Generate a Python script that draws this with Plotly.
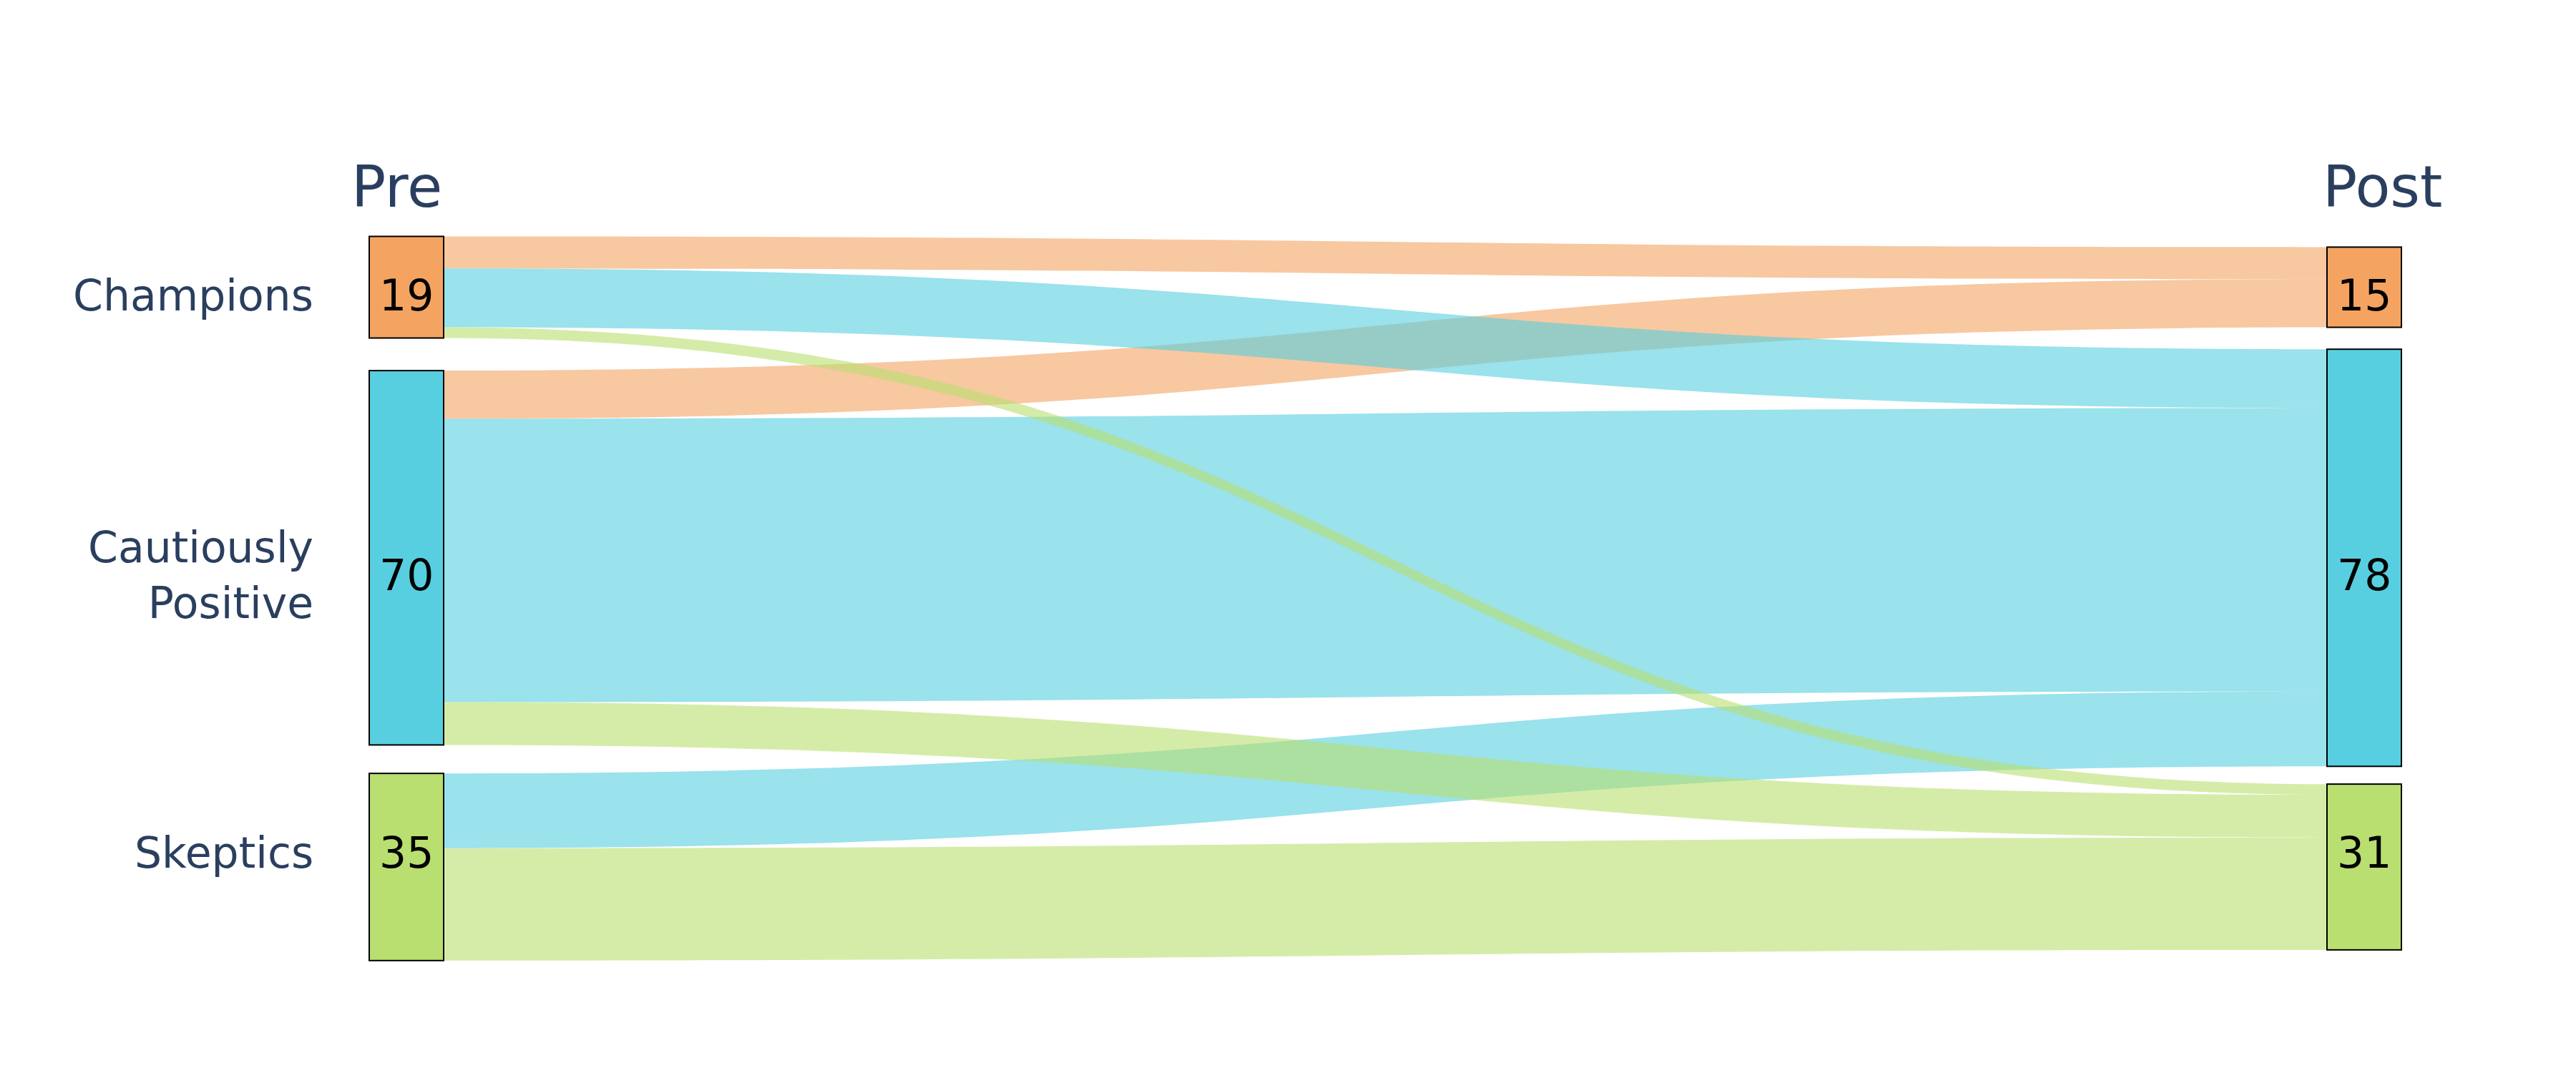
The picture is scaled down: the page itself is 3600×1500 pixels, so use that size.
import plotly.graph_objects as go

# ---- data ----
categories = ["Champions", "Cautiously Positive", "Skeptics"]
pre_label_text = ["Champions", "Cautiously<br>Positive", "Skeptics"]
pre_totals = [19, 70, 35]
post_totals = [15, 78, 31]
# flows, grouped by post category (node 0-2 = Pre, 3-5 = Post)
link_source = [0, 1, 0, 1, 2, 0, 1, 2]
link_target = [3, 3, 4, 4, 4, 5, 5, 5]
link_value = [6, 9, 11, 53, 14, 2, 8, 21]
column_titles = ["Pre", "Post"]

# ---- style / layout ----
node_colors = ["#F4A460", "#57CFE0", "#B9DF70"]
link_alpha = 0.6
W, H = 3600, 1500
M_L, M_R, M_T, M_B = 515, 243, 330, 157
PW, PH = W - M_L - M_R, H - M_T - M_B

def px_x(p):
    return (p - M_L) / PW

def px_y(p):
    return 1 - (p - M_T) / PH

col_x = [px_x(568), px_x(3304)]
row_centers_px = [401.5, 779.75, 1212]
node_y_frac = [(c - M_T) / PH for c in row_centers_px]
text_rows_px = [413, 804, 1192]

def rgba(hexcol, a):
    h = hexcol.lstrip("#")
    r, g, b = int(h[0:2], 16), int(h[2:4], 16), int(h[4:6], 16)
    return f"rgba({r},{g},{b},{a})"

n = len(categories)
node_x = [col_x[0]] * n + [col_x[1]] * n
node_y = node_y_frac + node_y_frac
all_node_colors = node_colors + node_colors
# links take the colour of the category they flow into
link_colors = [rgba(all_node_colors[t], link_alpha) for t in link_target]

fig = go.Figure(go.Sankey(
    arrangement="fixed",
    node=dict(
        label=[""] * (2 * n),
        x=node_x,
        y=node_y,
        pad=43,
        thickness=104,
        color=all_node_colors,
        line=dict(color="black", width=2),
    ),
    link=dict(source=link_source, target=link_target, value=link_value, color=link_colors),
))

FONT = "DejaVu Sans"
ann = []
for i in range(n):
    ann.append(dict(x=px_x(440), y=px_y(text_rows_px[i]), xref="paper", yref="paper",
                    text=pre_label_text[i], showarrow=False, xanchor="right", yanchor="middle",
                    align="right", font=dict(family=FONT, size=60, color="#2A3F5F")))
    ann.append(dict(x=col_x[0], y=px_y(text_rows_px[i]), xref="paper", yref="paper",
                    text=str(pre_totals[i]), showarrow=False, xanchor="center", yanchor="middle",
                    font=dict(family=FONT, size=60, color="black")))
    ann.append(dict(x=col_x[1], y=px_y(text_rows_px[i]), xref="paper", yref="paper",
                    text=str(post_totals[i]), showarrow=False, xanchor="center", yanchor="middle",
                    font=dict(family=FONT, size=60, color="black")))
ann.append(dict(x=px_x(554), y=px_y(262), xref="paper", yref="paper", text=column_titles[0],
                showarrow=False, xanchor="center", yanchor="middle",
                font=dict(family=FONT, size=80, color="#2A3F5F")))
ann.append(dict(x=px_x(3329), y=px_y(262), xref="paper", yref="paper", text=column_titles[1],
                showarrow=False, xanchor="center", yanchor="middle",
                font=dict(family=FONT, size=80, color="#2A3F5F")))

fig.update_layout(
    width=W, height=H,
    margin=dict(l=M_L, r=M_R, t=M_T, b=M_B),
    paper_bgcolor="white", plot_bgcolor="white",
    font=dict(family=FONT, color="#2A3F5F"),
    annotations=ann,
)
fig.write_html("out.html")
